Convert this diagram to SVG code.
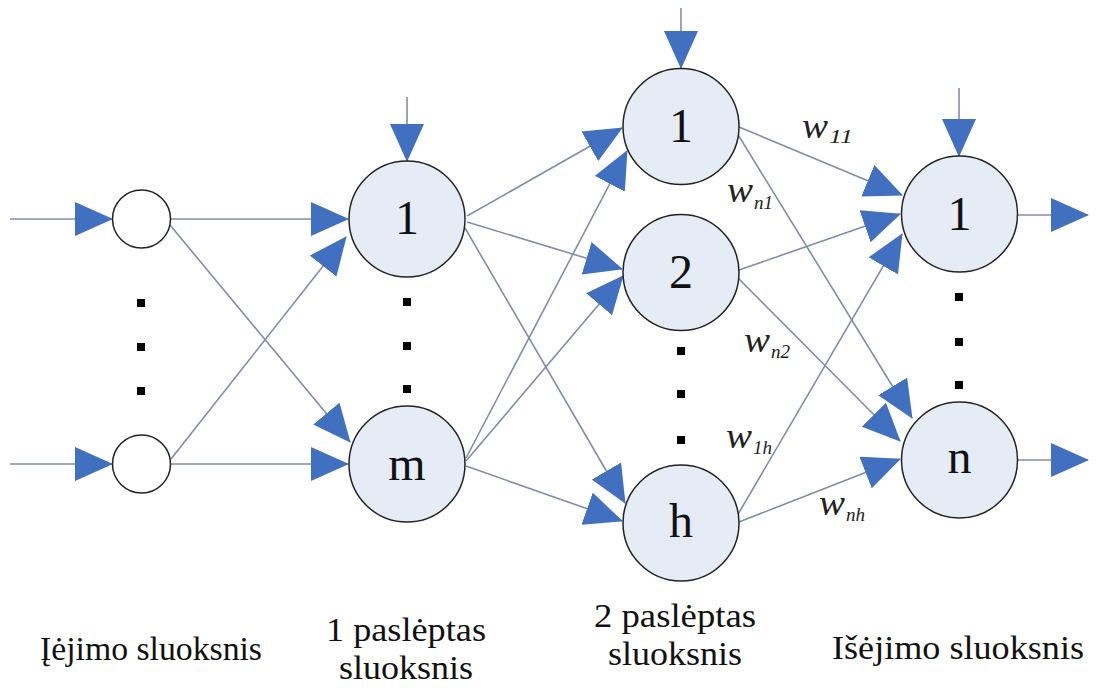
<svg xmlns="http://www.w3.org/2000/svg" width="1098" height="688" viewBox="0 0 1098 688">
<style>
  .bg{fill:#ffffff}
  .edge{stroke:#7f8daa;stroke-width:1.6;fill:none}
  .inp{fill:#ffffff;stroke:#222;stroke-width:1.5}
  .neu{fill:#e6ecf6;stroke:#222;stroke-width:1.5}
  .lbl{font-family:"Liberation Serif","Times New Roman",serif;font-size:48px;fill:#111;text-anchor:middle}
  .w{font-family:"Liberation Serif","Times New Roman",serif;font-style:italic;font-size:36px;fill:#222}
  .ws{font-family:"Liberation Serif","Times New Roman",serif;font-style:italic;font-size:19px;fill:#222}
  .cap{font-family:"Liberation Serif","Times New Roman",serif;font-size:34px;fill:#111;text-anchor:middle}
  .dot{fill:#000}
</style>
<defs>
  <marker id="ah" markerUnits="userSpaceOnUse" markerWidth="38" markerHeight="34" refX="37" refY="17" orient="auto" viewBox="0 0 38 34">
    <path d="M0,0 L38,17 L0,34 Z" fill="#4170c0"/>
  </marker>
</defs>
<rect class="bg" x="0" y="0" width="1098" height="688"/>

<g id="connectors">
  <line class="edge" x1="10" y1="219" x2="112" y2="219" marker-end="url(#ah)"/>
  <line class="edge" x1="10" y1="464" x2="112" y2="464" marker-end="url(#ah)"/>
  <line class="edge" x1="171" y1="219" x2="348" y2="219" marker-end="url(#ah)"/>
  <line class="edge" x1="170" y1="225" x2="350" y2="442" marker-end="url(#ah)"/>
  <line class="edge" x1="171" y1="459" x2="346" y2="237" marker-end="url(#ah)"/>
  <line class="edge" x1="171" y1="464" x2="348" y2="464" marker-end="url(#ah)"/>
  <line class="edge" x1="407" y1="97" x2="407" y2="161" marker-end="url(#ah)"/>
  <line class="edge" x1="681" y1="8" x2="681" y2="68" marker-end="url(#ah)"/>
  <line class="edge" x1="959" y1="88" x2="959" y2="156" marker-end="url(#ah)"/>
  <line class="edge" x1="467" y1="216" x2="622" y2="128" marker-end="url(#ah)"/>
  <line class="edge" x1="467" y1="222" x2="622" y2="269" marker-end="url(#ah)"/>
  <line class="edge" x1="465" y1="228" x2="625" y2="503" marker-end="url(#ah)"/>
  <line class="edge" x1="466" y1="458" x2="627" y2="151" marker-end="url(#ah)"/>
  <line class="edge" x1="466" y1="461" x2="623" y2="276" marker-end="url(#ah)"/>
  <line class="edge" x1="466" y1="466" x2="622" y2="521" marker-end="url(#ah)"/>
  <line class="edge" x1="739" y1="127" x2="902" y2="195" marker-end="url(#ah)"/>
  <line class="edge" x1="737" y1="133" x2="912" y2="418" marker-end="url(#ah)"/>
  <line class="edge" x1="739" y1="270" x2="900" y2="214" marker-end="url(#ah)"/>
  <line class="edge" x1="737" y1="277" x2="900" y2="441" marker-end="url(#ah)"/>
  <line class="edge" x1="737" y1="516" x2="902" y2="234" marker-end="url(#ah)"/>
  <line class="edge" x1="739" y1="522" x2="900" y2="459" marker-end="url(#ah)"/>
  <line class="edge" x1="1018" y1="215" x2="1088" y2="215" marker-end="url(#ah)"/>
  <line class="edge" x1="1018" y1="460" x2="1088" y2="460" marker-end="url(#ah)"/>
</g>

<g id="in1"><circle class="inp" cx="141.5" cy="219" r="29"/></g>
<g id="in2"><circle class="inp" cx="141.5" cy="464" r="29"/></g>
<g id="in-dots"><rect class="dot" x="137" y="299" width="8" height="8"/><rect class="dot" x="137" y="343" width="8" height="8"/><rect class="dot" x="137" y="387" width="8" height="8"/></g>

<g id="h1-1"><circle class="neu" cx="407" cy="219" r="58"/><text class="lbl" x="407" y="234">1</text></g>
<g id="h1-m"><circle class="neu" cx="407" cy="464" r="58"/><text class="lbl" x="407" y="480">m</text></g>
<g id="h1-dots"><rect class="dot" x="403" y="298" width="8" height="8"/><rect class="dot" x="403" y="342" width="8" height="8"/><rect class="dot" x="403" y="385" width="8" height="8"/></g>

<g id="h2-1"><circle class="neu" cx="681" cy="126.5" r="58"/><text class="lbl" x="681" y="142">1</text></g>
<g id="h2-2"><circle class="neu" cx="681" cy="272.5" r="58"/><text class="lbl" x="681" y="288">2</text></g>
<g id="h2-h"><circle class="neu" cx="681" cy="523" r="58"/><text class="lbl" x="681" y="537">h</text></g>
<g id="h2-dots"><rect class="dot" x="677" y="347" width="8" height="8"/><rect class="dot" x="677" y="390" width="8" height="8"/><rect class="dot" x="677" y="436" width="8" height="8"/></g>

<g id="out-1"><circle class="neu" cx="959.5" cy="214" r="58"/><text class="lbl" x="959.5" y="230">1</text></g>
<g id="out-n"><circle class="neu" cx="959.5" cy="460" r="58"/><text class="lbl" x="959.5" y="473">n</text></g>
<g id="out-dots"><rect class="dot" x="955" y="293" width="8" height="8"/><rect class="dot" x="955" y="338" width="8" height="8"/><rect class="dot" x="955" y="381" width="8" height="8"/></g>

<g id="weights">
  <text class="w" x="802" y="138" textLength="26" lengthAdjust="spacingAndGlyphs">w</text><text class="ws" x="829" y="143" textLength="24" lengthAdjust="spacingAndGlyphs">11</text>
  <text class="w" x="727" y="202" textLength="26" lengthAdjust="spacingAndGlyphs">w</text><text class="ws" x="754" y="209">n1</text>
  <text class="w" x="744" y="352" textLength="26" lengthAdjust="spacingAndGlyphs">w</text><text class="ws" x="771" y="358">n2</text>
  <text class="w" x="726" y="448" textLength="26" lengthAdjust="spacingAndGlyphs">w</text><text class="ws" x="753" y="454">1h</text>
  <text class="w" x="819" y="515" textLength="26" lengthAdjust="spacingAndGlyphs">w</text><text class="ws" x="846" y="521">nh</text>
</g>

<g id="captions">
  <text class="cap" x="151" y="660" textLength="222" lengthAdjust="spacingAndGlyphs">Įėjimo sluoksnis</text>
  <text class="cap" x="406" y="641" textLength="160" lengthAdjust="spacingAndGlyphs">1 paslėptas</text>
  <text class="cap" x="406" y="679" textLength="134" lengthAdjust="spacingAndGlyphs">sluoksnis</text>
  <text class="cap" x="675" y="627" textLength="162" lengthAdjust="spacingAndGlyphs">2 paslėptas</text>
  <text class="cap" x="675" y="665" textLength="134" lengthAdjust="spacingAndGlyphs">sluoksnis</text>
  <text class="cap" x="958" y="659" textLength="252" lengthAdjust="spacingAndGlyphs">Išėjimo sluoksnis</text>
</g>
</svg>
